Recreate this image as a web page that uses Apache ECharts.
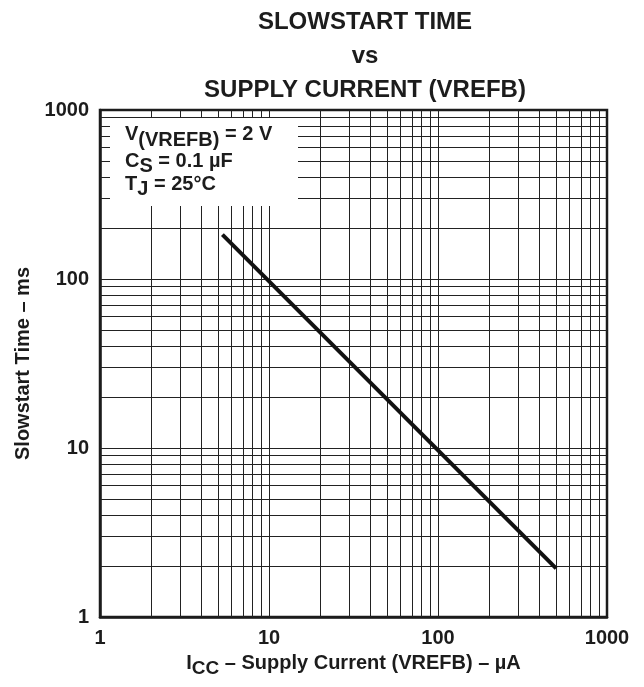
<!DOCTYPE html>
<html>
<head>
<meta charset="utf-8">
<script src="https://cdn.jsdelivr.net/npm/echarts@6/dist/echarts.min.js"></script>
<style>html,body{margin:0;padding:0;background:#fff}#c{width:644px;height:687px}</style>
</head>
<body>
<div id="c"></div>
<script>
// Data
const curveX = [5.3, 500];          // ICC (µA)
const curveY = [183, 1.94];         // Slowstart time (ms)
const xTickLabels = ['1', '10', '100', '1000'];
const yTickLabels = ['1', '10', '100', '1000'];
const gridValues = [2,3,4,5,6,7,8,9,10,20,30,40,50,60,70,80,90,100,200,300,400,500,600,700,800,900];

const FONT = 'Liberation Sans, Arial, Helvetica, sans-serif';
const INK = '#1c1c1c';

const chart = echarts.init(document.getElementById('c'), null, {renderer: 'canvas'});

const lineData = curveX.map((x, i) => [x, curveY[i]]);
const markData = gridValues.map(v => ({xAxis: v})).concat(gridValues.map(v => ({yAxis: v})));

const labelFmt = (arr) => (v) => arr[Math.round(Math.log10(v))] || '';

const option = {
  backgroundColor: '#fff',
  animation: false,
  title: {
    text: 'SLOWSTART TIME\nvs\nSUPPLY CURRENT (VREFB)',
    left: 360, top: 0, textAlign: 'center',
    textStyle: {fontFamily: FONT, fontWeight: 'bold', fontSize: 24, lineHeight: 34, color: INK}
  },
  grid: {left: 100, top: 110, width: 507, height: 507, show: true, borderColor: INK, borderWidth: 2.5, backgroundColor: 'transparent'},
  xAxis: {
    type: 'log', logBase: 10, min: 1, max: 1000,
    axisLine: {show: true, lineStyle: {color: INK, width: 2.5}},
    axisTick: {show: false},
    splitLine: {show: false},
    axisLabel: {formatter: labelFmt(xTickLabels), fontFamily: FONT, fontWeight: 'bold', fontSize: 20, color: INK, margin: 11, showMinLabel: true, showMaxLabel: true},
    name: '{m|I}{s|CC}{m| – Supply Current (VREFB) – µA}',
    nameLocation: 'middle', nameGap: 36,
    nameTextStyle: {
      fontFamily: FONT, fontWeight: 'bold', fontSize: 20, color: INK,
      rich: {
        m: {fontFamily: FONT, fontWeight: 'bold', fontSize: 20, color: INK, verticalAlign: 'top', lineHeight: 22},
        s: {fontFamily: FONT, fontWeight: 'bold', fontSize: 19, color: INK, verticalAlign: 'top', lineHeight: 22, padding: [6, 0, 0, 0]}
      }
    }
  },
  yAxis: {
    type: 'log', logBase: 10, min: 1, max: 1000,
    axisLine: {show: true, lineStyle: {color: INK, width: 2.5}},
    axisTick: {show: false},
    splitLine: {show: false},
    axisLabel: {formatter: labelFmt(yTickLabels), fontFamily: FONT, fontWeight: 'bold', fontSize: 20, color: INK, margin: 11, showMinLabel: true, showMaxLabel: true},
    name: 'Slowstart Time – ms',
    nameLocation: 'middle', nameGap: 66, nameRotate: 90,
    nameTextStyle: {fontFamily: FONT, fontWeight: 'bold', fontSize: 20, color: INK}
  },
  series: [{
    type: 'line',
    data: lineData,
    symbol: 'none',
    z: 5,
    lineStyle: {color: '#111', width: 4, cap: 'butt'},
    markLine: {
      silent: true,
      symbol: ['none', 'none'],
      label: {show: false},
      emphasis: {disabled: true},
      lineStyle: {type: 'solid', width: 1, color: '#222'},
      data: markData,
      z: 1
    }
  }],
  graphic: [
    {type: 'rect', z: 100, shape: {x: 110, y: 118, width: 188, height: 88}, style: {fill: '#fff'}},
    {type: 'text', z: 101, left: 125, top: 124, style: {
      text: '{m|V}{s|(VREFB)}{m| = 2 V}',
      rich: {
        m: {fontFamily: FONT, fontWeight: 'bold', fontSize: 20, fill: INK, verticalAlign: 'top', lineHeight: 22},
        s: {fontFamily: FONT, fontWeight: 'bold', fontSize: 20, fill: INK, verticalAlign: 'top', lineHeight: 22, padding: [6, 0, 0, 0]}
      }}},
    {type: 'text', z: 101, left: 125, top: 151, style: {
      text: '{m|C}{s|S}{m| = 0.1 µF}',
      rich: {
        m: {fontFamily: FONT, fontWeight: 'bold', fontSize: 20, fill: INK, verticalAlign: 'top', lineHeight: 22},
        s: {fontFamily: FONT, fontWeight: 'bold', fontSize: 20, fill: INK, verticalAlign: 'top', lineHeight: 22, padding: [5, 0, 0, 0]}
      }}},
    {type: 'text', z: 101, left: 125, top: 174, style: {
      text: '{m|T}{s|J}{m| = 25°C}',
      rich: {
        m: {fontFamily: FONT, fontWeight: 'bold', fontSize: 20, fill: INK, verticalAlign: 'top', lineHeight: 22},
        s: {fontFamily: FONT, fontWeight: 'bold', fontSize: 20, fill: INK, verticalAlign: 'top', lineHeight: 22, padding: [5, 0, 0, 0]}
      }}}
  ]
};
chart.setOption(option);
</script>
</body>
</html>
